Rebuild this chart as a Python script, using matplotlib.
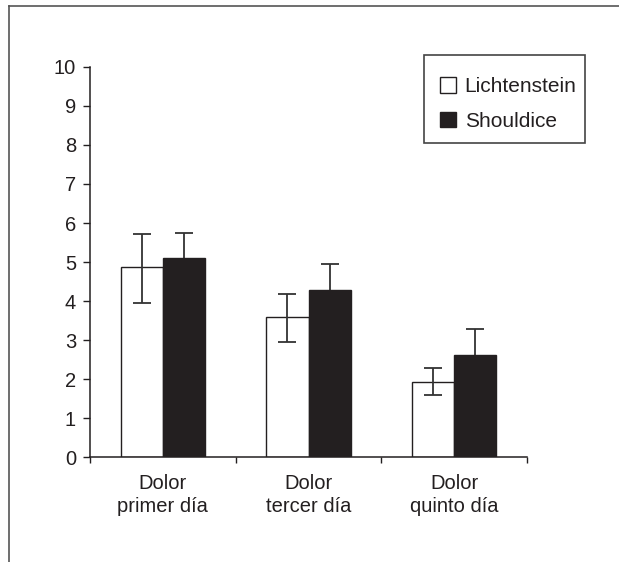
import matplotlib.pyplot as plt
import numpy as np
from matplotlib.lines import Line2D
from matplotlib.patches import Rectangle

plt.rcParams['font.family'] = ['Liberation Sans', 'DejaVu Sans']

categories = ['Dolor\nprimer día', 'Dolor\ntercer día', 'Dolor\nquinto día']
lichtenstein = [4.87, 3.58, 1.93]
licht_low = [3.95, 2.96, 1.58]
licht_high = [5.71, 4.19, 2.28]
shouldice = [5.11, 4.28, 2.62]
should_high = [5.75, 4.96, 3.27]

fig = plt.figure(figsize=(6.19, 5.62), dpi=100)
ax = fig.add_axes([0.1454, 0.1868, 0.706, 0.694])

x = np.arange(len(categories))
w = 0.29
ink = '#231f20'
ekw = dict(fmt='none', ecolor='#333333', elinewidth=1.3, capthick=1.3, capsize=6.5)

l_err = [np.array(lichtenstein) - np.array(licht_low), np.array(licht_high) - np.array(lichtenstein)]
s_up = np.array(should_high) - np.array(shouldice)

ax.bar(x - w / 2, lichtenstein, w, color='white', edgecolor=ink, linewidth=1.0,
       label='Lichtenstein', zorder=2)
ax.bar(x + w / 2, shouldice, w, color=ink, edgecolor=ink, linewidth=1.0,
       label='Shouldice', zorder=2)
# Lichtenstein bars on top, Shouldice lower half hidden behind the black bar
ax.errorbar(x - w / 2, lichtenstein, yerr=l_err, zorder=3, **ekw)
ax.errorbar(x + w / 2, shouldice, yerr=s_up, zorder=1, **ekw)

ax.set_xlim(-0.5, 2.5)
ax.set_ylim(0, 10)
ax.set_yticks(range(11))
ax.set_xticks(x)
ax.set_xticklabels(categories, fontsize=14.5, linespacing=1.25)
ax.set_xticks([-0.5, 0.5, 1.5, 2.5], minor=True)
ax.tick_params(axis='x', which='major', length=0, pad=12.5, colors=ink)
ax.tick_params(axis='x', which='minor', length=4.5, width=1.0, direction='out', color=ink)
ax.tick_params(axis='y', length=5, width=1.0, direction='out', labelsize=14.5, colors=ink, pad=5)

for s in ['top', 'right']:
    ax.spines[s].set_visible(False)
for s in ['left', 'bottom']:
    ax.spines[s].set_color(ink)
    ax.spines[s].set_linewidth(1.1)

# legend without its own frame, box drawn separately
leg = ax.legend(loc='upper left', bbox_to_anchor=(440 / 619, 1 - 77 / 562),
                bbox_transform=fig.transFigure, fontsize=15, frameon=False,
                handlelength=0.78, handleheight=0.78, handletextpad=0.4,
                borderpad=0, borderaxespad=0, labelspacing=0.74)
for t in leg.get_texts():
    t.set_color(ink)
fig.add_artist(Rectangle((424 / 619, 1 - 142.7 / 562), 161 / 619, 87.7 / 562,
                         transform=fig.transFigure, fill=False, edgecolor='#444444', lw=1.2))

# outer frame (top and left edges)
fig.add_artist(Line2D([9 / 619, 1], [1 - 6 / 562, 1 - 6 / 562], color='#555555', lw=1.2))
fig.add_artist(Line2D([9 / 619, 9 / 619], [0, 1 - 6 / 562], color='#555555', lw=1.2))

fig.savefig('out.png', dpi=100)
